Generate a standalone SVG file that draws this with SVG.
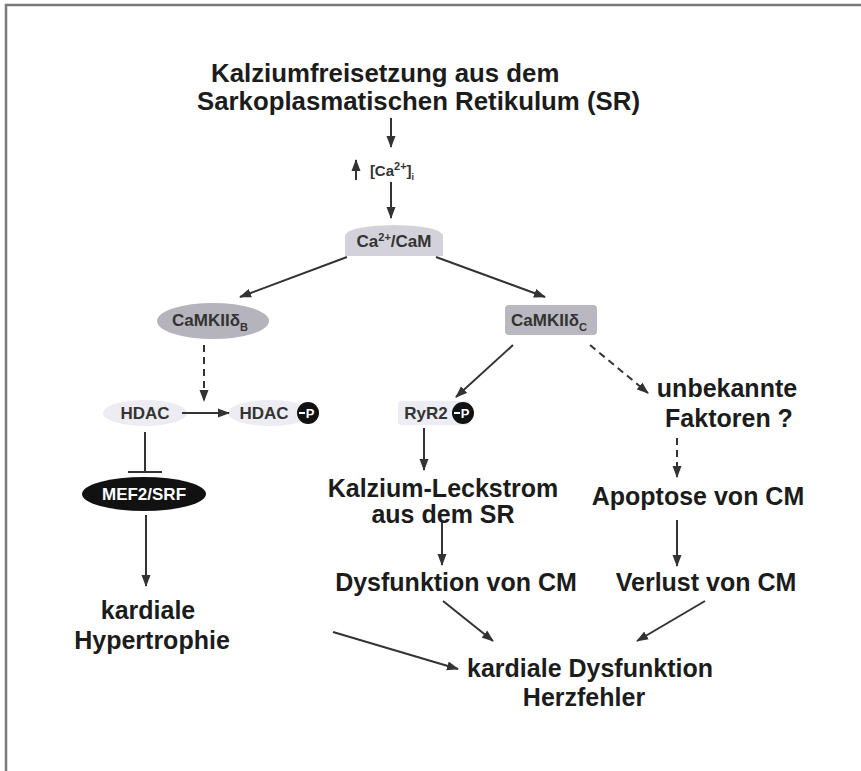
<svg xmlns="http://www.w3.org/2000/svg" width="861" height="771" viewBox="0 0 861 771">
<defs>
<marker id="ah" markerUnits="userSpaceOnUse" markerWidth="12" markerHeight="10" refX="11" refY="5" orient="auto">
<path d="M0,0.5 L12,5 L0,9.5 Z" fill="#333"/>
</marker>
<style>
.big{font-family:"Liberation Sans",Arial,sans-serif;font-weight:bold;font-size:25px;fill:#1c1c1c;text-anchor:middle}
.sm{font-family:"Liberation Sans",Arial,sans-serif;font-weight:bold;font-size:17px;fill:#333;text-anchor:middle}
.ln{stroke:#333;stroke-width:2;fill:none}
.ar{stroke:#333;stroke-width:2;fill:none;marker-end:url(#ah)}
.da{stroke:#333;stroke-width:2;fill:none;stroke-dasharray:7 5;marker-end:url(#ah)}
.pc{fill:#111}
.pt{font-family:"Liberation Sans",Arial,sans-serif;font-weight:bold;font-size:13px;fill:#fff;text-anchor:middle}
</style>
</defs>
<rect width="861" height="771" fill="#fff"/>
<path d="M6,771 V5 H861" fill="none" stroke="#7a7a7a" stroke-width="2.5"/>

<g id="title">
<text class="big" x="211" y="82" style="text-anchor:start;font-size:25.8px">Kalziumfreisetzung aus dem</text>
<text class="big" x="197" y="110" style="text-anchor:start;font-size:25.8px">Sarkoplasmatischen Retikulum (SR)</text>
</g>

<g id="ca">
<text class="sm" x="392" y="176" style="font-size:15px">[Ca<tspan dy="-6" font-size="11">2+</tspan><tspan dy="6">]</tspan><tspan dy="4" font-size="9">i</tspan></text>
</g>

<g id="cacam">
<path d="M345,256 V236 Q347,226 394,225 Q441,226 443,236 V256 Z" fill="#d3d2da"/>
<text class="sm" x="394" y="247">Ca<tspan dy="-6" font-size="11">2+</tspan><tspan dy="6">/CaM</tspan></text>
</g>

<g id="camkiib">
<ellipse cx="213" cy="321" rx="56" ry="18" fill="#b5b4bc"/>
<text class="sm" x="210" y="326">CaMKIIδ<tspan dy="5" font-size="11">B</tspan></text>
</g>

<g id="camkiic">
<rect x="505" y="305" width="92" height="30" rx="4" fill="#b9b8c0"/>
<text class="sm" x="549" y="326">CaMKIIδ<tspan dy="5" font-size="11">C</tspan></text>
</g>

<g id="hdac">
<ellipse cx="145" cy="413" rx="42" ry="13" fill="#ececf2"/>
<text class="sm" x="145" y="419">HDAC</text>
</g>

<g id="hdacp">
<ellipse cx="270" cy="413" rx="42" ry="13" fill="#ececf2"/>
<text class="sm" x="264" y="419">HDAC</text>
<circle class="pc" cx="308" cy="413" r="11"/>
<line x1="299" y1="413" x2="305" y2="413" stroke="#fff" stroke-width="2"/>
<text class="pt" x="310" y="418">P</text>
</g>

<g id="mef2">
<ellipse cx="144" cy="494" rx="62" ry="17" fill="#111"/>
<text class="sm" x="144" y="500" style="fill:#fff">MEF2/SRF</text>
</g>

<g id="hyper">
<text class="big" x="148" y="619">kardiale</text>
<text class="big" x="152" y="649">Hypertrophie</text>
</g>

<g id="ryr2">
<rect x="398" y="401" width="72" height="24" rx="3" fill="#ececf4"/>
<text class="sm" x="426" y="419">RyR2</text>
<circle class="pc" cx="463" cy="413" r="11"/>
<line x1="454" y1="413" x2="460" y2="413" stroke="#fff" stroke-width="2"/>
<text class="pt" x="465" y="418">P</text>
</g>

<g id="unbekannt">
<text class="big" x="727" y="397">unbekannte</text>
<text class="big" x="729" y="427">Faktoren ?</text>
</g>

<g id="leck">
<text class="big" x="443" y="497">Kalzium-Leckstrom</text>
<text class="big" x="443" y="523">aus dem SR</text>
</g>

<g id="apoptose">
<text class="big" x="698" y="505">Apoptose von CM</text>
</g>

<g id="dysCM">
<text class="big" x="456" y="591">Dysfunktion von CM</text>
</g>

<g id="verlust">
<text class="big" x="706" y="591">Verlust von CM</text>
</g>

<g id="dysf">
<text class="big" x="590" y="677">kardiale Dysfunktion</text>
<text class="big" x="584" y="706">Herzfehler</text>
</g>

<g id="connectors">
<line class="ar" x1="391" y1="118" x2="391" y2="147"/>
<line class="ar" x1="356" y1="180" x2="356" y2="160"/>
<line class="ar" x1="391" y1="182" x2="391" y2="218"/>
<line class="ar" x1="347" y1="257" x2="240" y2="297"/>
<line class="ar" x1="436" y1="257" x2="545" y2="297"/>
<line class="da" x1="204" y1="345" x2="204" y2="401"/>
<line class="ar" x1="182" y1="413" x2="229" y2="413"/>
<line class="ln" x1="145" y1="432" x2="145" y2="472"/>
<line class="ln" x1="128" y1="472" x2="162" y2="472"/>
<line class="ar" x1="146" y1="515" x2="146" y2="586"/>
<line class="ar" x1="513" y1="345" x2="456" y2="397"/>
<line class="da" x1="590" y1="345" x2="648" y2="393"/>
<line class="ar" x1="424" y1="428" x2="424" y2="470"/>
<line class="ar" x1="442" y1="522" x2="442" y2="565"/>
<line class="da" x1="677" y1="438" x2="677" y2="477"/>
<line class="ar" x1="677" y1="520" x2="677" y2="566"/>
<line class="ar" x1="443" y1="601" x2="493" y2="641"/>
<line class="ar" x1="705" y1="601" x2="637" y2="641"/>
<line class="ar" x1="333" y1="632" x2="458" y2="669"/>
</g>
</svg>
